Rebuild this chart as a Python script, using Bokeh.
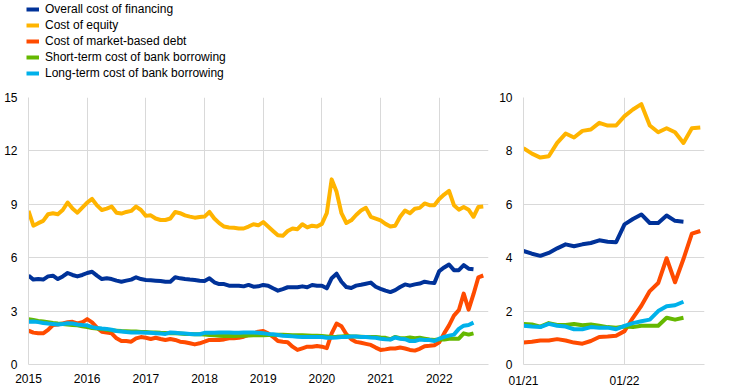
from bokeh.plotting import figure
from bokeh.layouts import row, column
from bokeh.models import Legend, LegendItem, FixedTicker, Range1d
from bokeh.embed import file_html
from bokeh.resources import INLINE

# ---------------- data (monthly, Jan 2015 onwards) ----------------
series_names = [
    "Overall cost of financing",
    "Cost of equity",
    "Cost of market-based debt",
    "Short-term cost of bank borrowing",
    "Long-term cost of bank borrowing",
]
series_colors = ["#003299", "#FFB400", "#FF4B00", "#65B800", "#00B1EA"]

overall_cost = [
    4.99, 4.77, 4.8, 4.77, 4.95, 4.99, 4.8, 4.95, 5.14, 5.03, 4.95, 5.03,
    5.14, 5.21, 4.99, 4.8, 4.84, 4.8, 4.71, 4.65, 4.71, 4.77, 4.9, 4.8,
    4.75, 4.73, 4.71, 4.69, 4.65, 4.65, 4.9, 4.84, 4.8, 4.77, 4.75, 4.71,
    4.69, 4.84, 4.62, 4.52, 4.52, 4.43, 4.43, 4.43, 4.39, 4.47, 4.37, 4.39,
    4.47, 4.43, 4.28, 4.15, 4.24, 4.34, 4.34, 4.34, 4.39, 4.34, 4.47, 4.43,
    4.43, 4.28, 4.85, 5.1, 4.65, 4.35, 4.3, 4.43, 4.48, 4.54, 4.6, 4.37,
    4.25, 4.15, 4.07, 4.18, 4.35, 4.5, 4.43, 4.5, 4.55, 4.65, 4.6, 4.58,
    5.25, 5.45, 5.62, 5.3, 5.3, 5.58, 5.38, 5.35,
]
cost_equity = [
    8.63, 7.8, 7.94, 8.07, 8.44, 8.5, 8.44, 8.68, 9.1, 8.76, 8.53, 8.81,
    9.1, 9.3, 8.94, 8.68, 8.76, 8.87, 8.53, 8.48, 8.57, 8.63, 8.87, 8.68,
    8.35, 8.38, 8.2, 8.12, 8.12, 8.2, 8.57, 8.5, 8.38, 8.31, 8.25, 8.29,
    8.31, 8.57, 8.2, 7.94, 7.75, 7.7, 7.68, 7.64, 7.64, 7.75, 7.88, 7.82,
    8.0, 7.75, 7.5, 7.26, 7.23, 7.5, 7.64, 7.6, 7.88, 7.7, 7.8, 7.75,
    7.9, 8.5, 10.4, 9.7, 8.5, 7.95, 8.1, 8.4, 8.65, 8.8, 8.3, 8.2,
    8.1, 7.9, 7.75, 7.8, 8.3, 8.65, 8.5, 8.75, 8.8, 9.05, 8.95, 8.95,
    9.3, 9.55, 9.75, 8.95, 8.7, 8.85, 8.7, 8.3, 8.85, 8.88,
]
cost_market_debt = [
    1.9, 1.79, 1.75, 1.75, 1.94, 2.22, 2.25, 2.31, 2.37, 2.4, 2.31, 2.37,
    2.55, 2.37, 2.07, 1.84, 1.79, 1.75, 1.47, 1.32, 1.32, 1.28, 1.47, 1.54,
    1.5, 1.43, 1.5, 1.43, 1.38, 1.43, 1.38, 1.28, 1.25, 1.19, 1.13, 1.19,
    1.28, 1.38, 1.38, 1.38, 1.41, 1.47, 1.47, 1.5, 1.56, 1.66, 1.75, 1.84,
    1.88, 1.75, 1.56, 1.32, 1.28, 1.25, 1.0, 0.82, 0.91, 1.0, 1.0, 1.04,
    1.0, 0.92, 1.75, 2.3, 2.15, 1.7, 1.42, 1.27, 1.22, 1.16, 1.1, 0.95,
    0.82, 0.85, 0.9, 0.9, 0.95, 0.9, 0.82, 0.78, 0.88, 1.03, 1.05, 1.08,
    1.25, 1.75, 2.2, 2.75, 3.05, 3.98, 3.08, 3.95, 4.9, 5.0,
]
short_term_bank = [
    2.55, 2.5, 2.45, 2.42, 2.38, 2.33, 2.3, 2.28, 2.25, 2.22, 2.2, 2.15,
    2.1, 2.05, 2.02, 2.0, 1.95, 1.92, 1.9, 1.88, 1.87, 1.85, 1.85, 1.83,
    1.82, 1.8, 1.8, 1.78, 1.77, 1.76, 1.75, 1.74, 1.72, 1.72, 1.7, 1.7,
    1.68, 1.66, 1.64, 1.62, 1.6, 1.6, 1.6, 1.62, 1.62, 1.63, 1.64, 1.65,
    1.65, 1.66, 1.66, 1.67, 1.67, 1.66, 1.65, 1.65, 1.64, 1.63, 1.62, 1.62,
    1.6, 1.58, 1.55, 1.56, 1.58, 1.6, 1.58, 1.57, 1.56, 1.55, 1.55, 1.55,
    1.52, 1.5, 1.42, 1.55, 1.48, 1.48, 1.52, 1.47, 1.5, 1.45, 1.4, 1.38,
    1.42, 1.4, 1.45, 1.45, 1.45, 1.75, 1.68, 1.75,
]
long_term_bank = [
    2.4, 2.42, 2.38, 2.33, 2.3, 2.28, 2.25, 2.28, 2.32, 2.3, 2.25, 2.22,
    2.2, 2.1, 2.05, 2.02, 2.0, 1.95, 1.88, 1.85, 1.82, 1.8, 1.8, 1.8,
    1.78, 1.78, 1.76, 1.74, 1.72, 1.8, 1.78, 1.76, 1.74, 1.72, 1.7, 1.7,
    1.78, 1.78, 1.78, 1.8, 1.8, 1.8, 1.78, 1.78, 1.8, 1.8, 1.8, 1.78,
    1.75, 1.72, 1.7, 1.66, 1.62, 1.6, 1.58, 1.56, 1.55, 1.55, 1.55, 1.55,
    1.55, 1.5, 1.5, 1.52, 1.55, 1.55, 1.57, 1.57, 1.55, 1.55, 1.52, 1.5,
    1.45, 1.42, 1.4, 1.52, 1.45, 1.42, 1.32, 1.32, 1.4, 1.38, 1.38, 1.32,
    1.45, 1.55, 1.62, 1.68, 2.0, 2.18, 2.22, 2.35,
]
all_series = [overall_cost, cost_equity, cost_market_debt, short_term_bank, long_term_bank]

left_year_labels = ["2015", "2016", "2017", "2018", "2019", "2020", "2021", "2022"]
right_tick_labels = ["01/21", "01/22"]
zoom_start = 72  # index of Jan 2021

FONT = "Liberation Sans"
GRID = "#D9D9D9"
LEG_H = 90
PLOT_H = 302
LEFT_W = 494
RIGHT_W = 230


def style(p, xticks, xlabels, yticks, ystandoff):
    p.outline_line_color = None
    p.background_fill_color = "white"
    p.border_fill_color = "white"
    p.xaxis.ticker = FixedTicker(ticks=xticks)
    p.xaxis.major_label_overrides = {t: l for t, l in zip(xticks, xlabels)}
    p.yaxis.ticker = FixedTicker(ticks=yticks)
    for ax in (p.xaxis, p.yaxis):
        ax.axis_line_color = GRID
        ax.axis_line_width = 1
        ax.major_tick_line_color = None
        ax.minor_tick_line_color = None
        ax.major_tick_out = 0
        ax.major_tick_in = 0
        ax.minor_tick_out = 0
        ax.minor_tick_in = 0
        ax.major_label_text_font = FONT
        ax.major_label_text_font_size = "12px"
        ax.major_label_text_color = "#000000"
    p.xaxis.major_label_standoff = 9
    p.yaxis.major_label_standoff = ystandoff
    p.xgrid.ticker = FixedTicker(ticks=xticks)
    p.ygrid.ticker = FixedTicker(ticks=yticks)
    p.xgrid.grid_line_color = GRID
    p.ygrid.grid_line_color = GRID


# ---------------- legend strip (its lines sit outside the visible range) ----------------
pl = figure(width=LEFT_W, height=LEG_H, output_backend="svg", toolbar_location=None,
            x_range=Range1d(-20, -10), y_range=Range1d(0, 1),
            min_border_left=26, min_border_right=0, min_border_top=2, min_border_bottom=0)
pl.axis.visible = False
pl.grid.visible = False
pl.outline_line_color = None
legend_renderers = [pl.line(list(range(len(v))), v, line_color=c, line_width=4)
                    for v, c in zip(all_series, series_colors)]
legend = Legend(items=[LegendItem(label=n, renderers=[r]) for n, r in zip(series_names, legend_renderers)],
                location="top_left", orientation="vertical",
                glyph_width=13, glyph_height=12, label_height=12, spacing=2,
                padding=0, margin=0, label_standoff=6,
                label_text_font=FONT, label_text_font_size="12px", label_text_color="#000000",
                border_line_color=None, background_fill_alpha=0)
pl.add_layout(legend, "center")

# ---------------- left panel ----------------
p1 = figure(width=LEFT_W, height=PLOT_H, output_backend="svg", toolbar_location=None,
            x_range=Range1d(0, 94.07), y_range=Range1d(0, 15),
            min_border_left=28, min_border_right=6, min_border_top=7, min_border_bottom=28)
left_ticks = [12 * i for i in range(len(left_year_labels))]
style(p1, left_ticks, left_year_labels, [0, 3, 6, 9, 12, 15], 11)
for vals, col in zip(all_series, series_colors):
    p1.line(list(range(len(vals))), vals, line_color=col, line_width=4, line_join="round")

# ---------------- right panel ----------------
p2 = figure(width=RIGHT_W, height=PLOT_H, output_backend="svg", toolbar_location=None,
            x_range=Range1d(0, 21.5), y_range=Range1d(0, 10),
            min_border_left=29, min_border_right=20, min_border_top=7, min_border_bottom=28)
style(p2, [0, 12], right_tick_labels, [0, 2, 4, 6, 8, 10], 11)
for vals, col in zip(all_series, series_colors):
    sub = vals[zoom_start:]
    p2.line(list(range(len(sub))), sub, line_color=col, line_width=4, line_join="round")

layout = column(pl, row(p1, p2))
open("out.html", "w").write(file_html(layout, INLINE))
